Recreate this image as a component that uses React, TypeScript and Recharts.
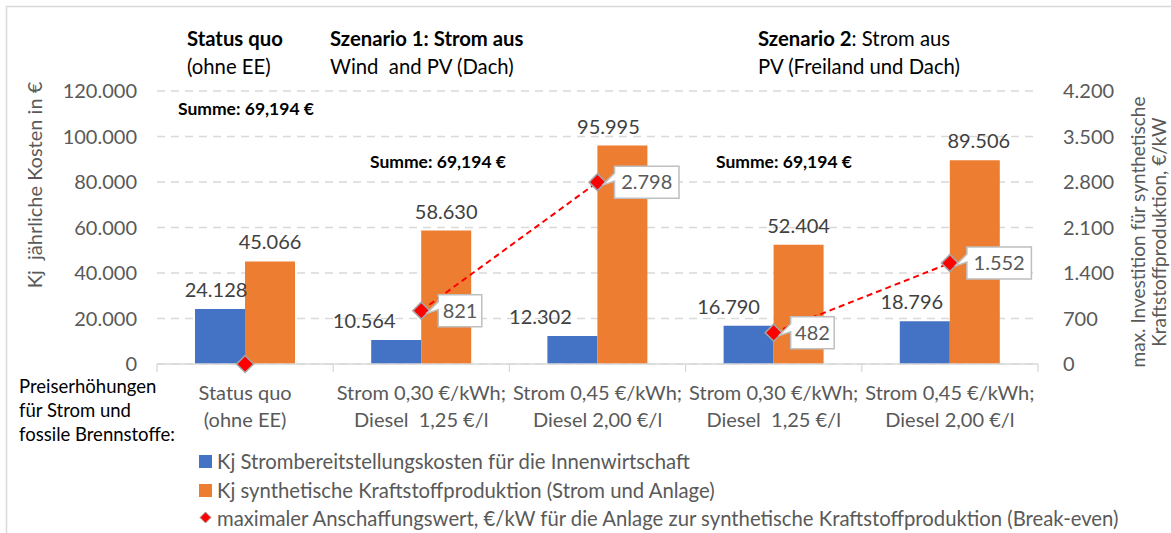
import React from 'react';
import { ComposedChart, Bar, Line, XAxis, YAxis, CartesianGrid, LabelList } from 'recharts';

// ---------- data ----------
const categoryLine1 = ['Status quo', 'Strom 0,30 €/kWh;', 'Strom 0,45 €/kWh;', 'Strom 0,30 €/kWh;', 'Strom 0,45 €/kWh;'];
const categoryLine2 = ['(ohne EE)', 'Diesel  1,25 €/l', 'Diesel 2,00 €/l', 'Diesel  1,25 €/l', 'Diesel 2,00 €/l'];
const scenarioOf = ['SQ', 'S1', 'S1', 'S2', 'S2'];
const stromKosten = [24128, 10564, 12302, 16790, 18796];
const kraftstoffKosten = [45066, 58630, 95995, 52404, 89506];
const breakEven = [0, 821, 2798, 482, 1552];
const leftTicks = [0, 20000, 40000, 60000, 80000, 100000, 120000];
const rightTicks = [0, 700, 1400, 2100, 2800, 3500, 4200];
const seriesNames = [
  'Kj Strombereitstellungskosten für die Innenwirtschaft',
  'Kj synthetische Kraftstoffproduktion (Strom und Anlage)',
  'maximaler Anschaffungswert, €/kW für die Anlage zur synthetische Kraftstoffproduktion (Break-even)',
];
const leftAxisTitle = 'Kj  jährliche Kosten in €';
const rightAxisTitle = ['max. Investition für synthetische', 'Kraftstoffproduktion, €/kW'];
const sumLabel = 'Summe: 69,194 €';
const rowTitle = ['Preiserhöhungen', 'für Strom und', 'fossile Brennstoffe:'];

// manual label nudges (layout only)
const stromLabelNudge = [-4, -32, -32, -20, -13];
const kraftLabelNudge = [0, 0, -14, 0, 4];

// ---------- layout ----------
const W = 1171;
const H = 533;
const PLOT_L = 157;
const PLOT_R = 1038;
const PLOT_T = 91;
const PLOT_B = 364;
const BAND = (PLOT_R - PLOT_L) / categoryLine1.length;

const BLUE = '#4472C4';
const ORANGE = '#ED7D31';
const RED = '#FF0000';
const GRAY = '#595959';
const DARK = '#404040';
const GRID = '#D9D9D9';
const FONT = 'Lato, "Open Sans", sans-serif';

const fmt = (v: number) => String(v).replace(/\B(?=(\d{3})+(?!\d))/g, '.');

const data = categoryLine1.map((_, i) => ({
  key: i,
  strom: stromKosten[i],
  kraft: kraftstoffKosten[i],
  be: breakEven[i],
  s1: scenarioOf[i] === 'S1' ? breakEven[i] : null,
  s2: scenarioOf[i] === 'S2' ? breakEven[i] : null,
}));

const XTick = (props: any) => {
  const { x, y, index } = props;
  const i = Number(index);
  const half = BAND / 2;
  return (
    <g>
      <line x1={x - half} x2={x - half} y1={y} y2={y + 8} stroke={GRID} strokeWidth={1.3} />
      {i === categoryLine1.length - 1 && (
        <line x1={x + half} x2={x + half} y1={y} y2={y + 8} stroke={GRID} strokeWidth={1.3} />
      )}
      <text x={x} y={y + 36} textAnchor="middle" fill={GRAY} fontSize={20} style={{ whiteSpace: 'pre' }}>
        {categoryLine1[i]}
      </text>
      <text x={x} y={y + 63} textAnchor="middle" fill={GRAY} fontSize={20} style={{ whiteSpace: 'pre' }}>
        {categoryLine2[i]}
      </text>
    </g>
  );
};

const barLabel = (nudges: number[]) => (p: any) => {
  const { x, y, width, value, index } = p;
  const i = Number(index);
  return (
    <text x={Number(x) + Number(width) / 2 + (nudges[i] || 0)} y={Number(y) - 12} textAnchor="middle" fill={DARK} fontSize={20}>
      {fmt(Number(value))}
    </text>
  );
};

const Diamond = (p: any) => {
  const { cx, cy, index } = p;
  if (cx == null || cy == null) return <g key={`d${index}`} />;
  const r = 8.5;
  return (
    <path
      key={`d${index}`}
      d={`M${cx},${cy - r}L${cx + r},${cy}L${cx},${cy + r}L${cx - r},${cy}Z`}
      fill={RED}
      stroke="#A6A6A6"
      strokeWidth={1.5}
    />
  );
};

const calloutLabel = (p: any) => {
  const { x, y, value } = p;
  const v = Number(value);
  if (!v) return null;
  const txt = fmt(v);
  const cx = Number(x);
  const cy = Number(y);
  const w = txt.length * 10.5 + 12;
  const h = 32;
  const bx = cx + 17;
  const by = cy - h / 2;
  const d = `M${bx},${by}H${bx + w}V${by + h}H${bx}V${cy - 1}L${cx + 5},${cy + 3}L${bx},${cy - 9}Z`;
  return (
    <g>
      <path d={d} fill="#FFFFFF" stroke="#BFBFBF" strokeWidth={1.5} />
      <text x={bx + w / 2} y={cy + 7} textAnchor="middle" fill={GRAY} fontSize={20}>
        {txt}
      </text>
    </g>
  );
};

export default function App() {
  return (
    <div style={{ position: 'absolute', left: 0, top: 0, width: W, height: H, background: '#fff', fontFamily: FONT }}>
      <ComposedChart
        width={W}
        height={H}
        data={data}
        margin={{ top: PLOT_T, bottom: H - PLOT_B - 60, left: PLOT_L - 80, right: W - PLOT_R - 80 }}
        barCategoryGap={38}
        barGap={0}
      >
        <CartesianGrid vertical={false} stroke={GRID} strokeDasharray="8 6" strokeWidth={1.3} yAxisId="left" />
        <XAxis
          dataKey="key"
          height={60}
          interval={0}
          tickLine={false}
          tickSize={0}
          tickMargin={0}
          axisLine={{ stroke: GRID, strokeWidth: 1.3 }}
          tick={<XTick />}
        />
        <YAxis
          yAxisId="left"
          orientation="left"
          width={80}
          domain={[0, 120000]}
          ticks={leftTicks}
          tickFormatter={fmt}
          axisLine={false}
          tickLine={false}
          tickSize={6}
          tickMargin={14}
          tick={{ fill: GRAY, fontSize: 20 }}
        />
        <YAxis
          yAxisId="right"
          orientation="right"
          width={80}
          domain={[0, 4200]}
          ticks={rightTicks}
          tickFormatter={fmt}
          axisLine={false}
          tickLine={false}
          tickSize={6}
          tickMargin={19}
          tick={{ fill: GRAY, fontSize: 20, textAnchor: 'start' }}
        />
        <Bar yAxisId="left" dataKey="strom" fill={BLUE} isAnimationActive={false}>
          <LabelList dataKey="strom" content={barLabel(stromLabelNudge)} />
        </Bar>
        <Bar yAxisId="left" dataKey="kraft" fill={ORANGE} isAnimationActive={false}>
          <LabelList dataKey="kraft" content={barLabel(kraftLabelNudge)} />
        </Bar>
        <Line yAxisId="right" dataKey="s1" stroke={RED} strokeWidth={2} strokeDasharray="6 4" dot={false} activeDot={false} connectNulls={false} isAnimationActive={false} />
        <Line yAxisId="right" dataKey="s2" stroke={RED} strokeWidth={2} strokeDasharray="6 4" dot={false} activeDot={false} connectNulls={false} isAnimationActive={false} />
        <Line yAxisId="right" dataKey="be" stroke="none" dot={Diamond} activeDot={false} isAnimationActive={false}>
          <LabelList dataKey="be" content={calloutLabel} />
        </Line>
      </ComposedChart>

      <svg width={W} height={H} style={{ position: 'absolute', left: 0, top: 0, pointerEvents: 'none', fontFamily: FONT }}>
        <rect x={6.5} y={6.5} width={W + 20} height={H + 20} fill="none" stroke={GRID} strokeWidth={1.5} />

        {/* scenario headers */}
        <text x={187} y={46} fontSize={20.3} fontWeight="bold" fill="#000">Status quo</text>
        <text x={187} y={74} fontSize={20.3} fill="#000">(ohne EE)</text>
        <text x={330} y={46} fontSize={20.3} fontWeight="bold" fill="#000">Szenario 1: Strom aus</text>
        <text x={330} y={74} fontSize={20.3} fill="#000" style={{ whiteSpace: 'pre' }}>Wind  and PV (Dach)</text>
        <text x={758} y={46} fontSize={20.3} fill="#000">
          <tspan fontWeight="bold">Szenario 2</tspan>
          <tspan>: Strom aus</tspan>
        </text>
        <text x={758} y={74} fontSize={20.3} fill="#000">PV (Freiland und Dach)</text>

        {/* sums */}
        <text x={246} y={115} fontSize={17.5} fontWeight="bold" fill="#000" textAnchor="middle">{sumLabel}</text>
        <text x={438} y={168} fontSize={17.5} fontWeight="bold" fill="#000" textAnchor="middle">{sumLabel}</text>
        <text x={784} y={168} fontSize={17.5} fontWeight="bold" fill="#000" textAnchor="middle">{sumLabel}</text>

        {/* row title */}
        {rowTitle.map((t, i) => (
          <text key={t} x={19} y={393 + i * 24} fontSize={18.5} fill="#000">{t}</text>
        ))}

        {/* axis titles */}
        <text x={42} y={185} fontSize={20} fill={GRAY} textAnchor="middle" transform="rotate(-90 42 185)" style={{ whiteSpace: 'pre' }}>
          {leftAxisTitle}
        </text>
        <text x={1145} y={232} fontSize={19} fill={GRAY} textAnchor="middle" transform="rotate(-90 1145 232)">
          {rightAxisTitle[0]}
        </text>
        <text x={1166} y={232} fontSize={19} fill={GRAY} textAnchor="middle" transform="rotate(-90 1166 232)">
          {rightAxisTitle[1]}
        </text>

        {/* legend */}
        <rect x={199} y={455} width={13} height={13} fill={BLUE} />
        <text x={217} y={469} fontSize={20.3} fill={GRAY}>{seriesNames[0]}</text>
        <rect x={199} y={484} width={13} height={13} fill={ORANGE} />
        <text x={217} y={498} fontSize={20.3} fill={GRAY}>{seriesNames[1]}</text>
        <path d="M205.5,512L211,517.5L205.5,523L200,517.5Z" fill={RED} stroke="#A6A6A6" strokeWidth={1} />
        <text x={217} y={526} fontSize={20.3} fill={GRAY}>{seriesNames[2]}</text>
      </svg>
    </div>
  );
}
